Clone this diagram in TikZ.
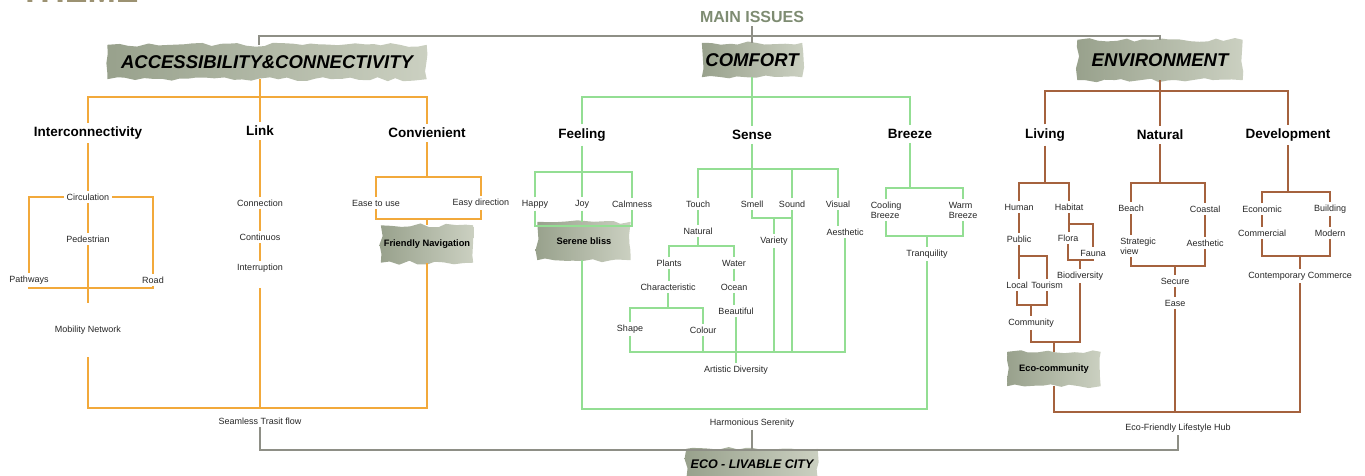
\documentclass[tikz,border=0pt]{standalone}
\usepackage{fontspec}
\setmainfont{Liberation Sans}
\usetikzlibrary{calc,backgrounds,decorations.pathmorphing}

\definecolor{acorange}{HTML}{F2A93B}
\definecolor{cfgreen}{HTML}{93DE93}
\definecolor{envbrown}{HTML}{A5623E}
\definecolor{maingrey}{HTML}{8E8F86}
\definecolor{issuegreen}{HTML}{7E8C72}
\definecolor{themegold}{HTML}{9C9272}
\definecolor{brushdark}{HTML}{98A18C}
\definecolor{brushlight}{HTML}{CBD0C1}

\tikzset{
  head/.style={font=\fontsize{18.5}{20}\selectfont\bfseries\itshape, inner sep=0pt},
  sub/.style={font=\fontsize{13.5}{15}\selectfont\bfseries, inner sep=4pt},
  lbl/.style={font=\fontsize{9}{10}\selectfont, text=black!85, inner sep=2.5pt},
  key/.style={font=\fontsize{9.3}{10}\selectfont\bfseries, inner sep=0pt},
  brush/.style={left color=brushdark, right color=brushlight,
    decorate, decoration={random steps, segment length=9pt, amplitude=2pt}},
  mainline/.style={draw=maingrey, line width=2pt},
  acline/.style={draw=acorange, line width=1.8pt},
  cfline/.style={draw=cfgreen, line width=1.3pt},
  envline/.style={draw=envbrown, line width=1.7pt}
}

\begin{document}
\begin{tikzpicture}[x=1pt, y=-1pt]
    \pgfmathsetseed{7}
    \useasboundingbox (0,0) rectangle (1365,475);

    \node[anchor=base west, font=\fontsize{34}{36}\selectfont\bfseries, text=themegold] (theme) at (16,2) {THEME};
    \node[font=\fontsize{16}{18}\selectfont\bfseries, text=issuegreen] (issues) at (752,17) {MAIN ISSUES};
    \node[head, minimum width=319, minimum height=34] (acc) at (267,62) {ACCESSIBILITY\&CONNECTIVITY};
    \node[head, minimum width=100, minimum height=34] (comf) at (752,60) {COMFORT};
    \node[head, minimum width=165, minimum height=40] (env) at (1160,60) {ENVIRONMENT};
    \node[head, font=\fontsize{12.5}{14}\selectfont\bfseries\itshape, minimum width=131, minimum height=30] (eco) at (752,464) {ECO - LIVABLE CITY};

    \coordinate (topL) at (259,36);
    \coordinate (topR) at (1160,36);
    \draw[mainline] (acc.north -| topL) -- (topL) -- (topR) -- (env.north);
    \draw[mainline] (issues.south) -- (comf.north);

    %----- accessibility & connectivity

    \node[sub] (inter) at (88,133) {Interconnectivity};
    \node[sub] (link) at (260,131) {Link};
    \node[sub] (conv) at (427,133) {Convienient};
    \coordinate (aj) at (260,97);
    \draw[acline] (inter.north) |- (aj) -| (conv.north);
    \draw[acline] (acc.south -| aj) -- (link.north);

    \node[lbl] (circ) at (88,197) {Circulation};
    \node[lbl] (ped) at (88,239) {Pedestrian};
    \node[lbl] (pathw) at (29,280) {Pathways};
    \node[lbl] (road) at (153,280) {Road};
    \node[lbl, minimum height=54] (mob) at (88,330) {Mobility Network};
    \coordinate (pr) at (88,288);
    \draw[acline] (inter.south) -- (circ.north);
    \draw[acline] (circ.west) -| (pathw.north);
    \draw[acline] (circ.east) -| (road.north);
    \draw[acline] (circ.south) -- (ped.north);
    \draw[acline] (ped.south) -- (mob.north);
    \draw[acline] (pathw.south) |- (pr) -| (road.south);

    \node[lbl] (connx) at (260,203) {Connection};
    \node[lbl] (cont) at (260,237) {Continuos};
    \node[lbl] (intr) at (260,268) {Interruption};
    \draw[acline] (link.south) -- (connx.north);
    \draw[acline] (connx.south) -- (cont.north);
    \draw[acline] (cont.south) -- (intr.north);

    \node[lbl] (easeuse) at (376,203) {Ease to use};
    \node[lbl] (easydir) at (481,203) {Easy direction};
    \node[key, minimum width=92, minimum height=37] (fnav) at (427,244) {Friendly Navigation};
    \coordinate (cj) at (427,177);
    \coordinate (cb) at (427,219);
    \draw[acline] (conv.south) -- (cj);
    \draw[acline] (easeuse.north) |- (cj) -| (easydir.north);
    \draw[acline] (easeuse.south) |- (cb) -| (easydir.south);
    \draw[acline] (cb) -- (fnav.north);

    \node[lbl] (sf) at (260,421) {Seamless Trasit flow};
    \coordinate (sfj) at (260,408);
    \draw[acline] (mob.south) |- (sfj) -| (fnav.south);
    \draw[acline, shorten <=13pt] (intr.south) -- (sfj);

    %----- comfort

    \node[sub] (feel) at (582,135) {Feeling};
    \node[sub] (sense) at (752,135) {Sense};
    \node[sub] (breeze) at (910,134) {Breeze};
    \coordinate (gj) at (752,97);
    \draw[cfline] (feel.north) |- (gj) -| (breeze.north);
    \draw[cfline] (comf.south) -- (sense.north);

    \node[lbl] (happy) at (535,204) {Happy};
    \node[lbl] (joy) at (582,204) {Joy};
    \node[lbl] (calm) at (632,204) {Calmness};
    \node[key, minimum width=93, minimum height=38] (serene) at (584,241) {Serene bliss};
    \coordinate (fj) at (582,172);
    \coordinate (fb) at (582,226);
    \draw[cfline] (feel.south) -- (joy.north);
    \draw[cfline] (happy.north) |- (fj) -| (calm.north);
    \draw[cfline] (happy.south) |- (fb) -| (calm.south);
    \draw[cfline] (joy.south) -- (joy.south |- serene.north);

    \node[lbl] (touch) at (698,204) {Touch};
    \node[lbl] (smell) at (752,204) {Smell};
    \node[lbl] (sound) at (792,204) {Sound};
    \node[lbl] (visual) at (838,204) {Visual};
    \node[lbl] (variety) at (774,241) {Variety};
    \node[lbl] (aes) at (845,232) {Aesthetic};
    \node[lbl] (nat) at (698,231) {Natural};
    \node[lbl] (plants) at (669,263) {Plants};
    \node[lbl] (water) at (734,263) {Water};
    \node[lbl] (charac) at (668,287) {Characteristic};
    \node[lbl] (ocean) at (734,287) {Ocean};
    \node[lbl] (beaut) at (736,311) {Beautiful};
    \node[lbl] (shape) at (630,329) {Shape};
    \node[lbl] (colour) at (703,330) {Colour};
    \node[lbl] (artd) at (736,370) {Artistic Diversity};

    \coordinate (sj) at (752,169);
    \draw[cfline] (sense.south) -- (smell.north);
    \draw[cfline] (touch.north) |- (sj) -| (visual.north);
    \draw[cfline] (sound.north) -- (sound.north |- sj);
    \coordinate (vj) at (774,218);
    \coordinate (ab) at (736,352);
    \draw[cfline] (smell.south) |- (vj) -| (sound.south);
    \draw[cfline] (vj) -- (variety.north);
    \draw[cfline] (sound.south) -- (sound.south |- ab);
    \draw[cfline] (visual.south) -- (visual.south |- aes.north);
    \draw[cfline] (touch.south) -- (nat.north);
    \coordinate (nj) at (698,246);
    \draw[cfline] (nat.south) -- (nj);
    \draw[cfline] (plants.north) |- (nj) -| (water.north);
    \draw[cfline] (plants.south) -- (plants.south |- charac.north);
    \draw[cfline] (water.south) -- (water.south |- ocean.north);
    \draw[cfline] (ocean.south) -- (ocean.south |- beaut.north);
    \coordinate (cj2) at (668,308);
    \draw[cfline] (charac.south) -- (cj2);
    \draw[cfline] (shape.north) |- (cj2) -| (colour.north);
    \draw[cfline] (shape.south) |- (ab) -| (aes.south);
    \draw[cfline] (colour.south) -- (colour.south |- ab);
    \draw[cfline] (variety.south) -- (variety.south |- ab);
    \draw[cfline] (beaut.south) -- (artd.north);

    \node[lbl, align=left] (cool) at (886,210) {Cooling\\Breeze};
    \node[lbl, align=left] (warm) at (963,210) {Warm\\Breeze};
    \node[lbl] (tranq) at (927,254) {Tranquility};
    \coordinate (bj) at (910,188);
    \coordinate (bb) at (927,236);
    \draw[cfline] (breeze.south) -- (bj);
    \draw[cfline] (cool.north) |- (bj) -| (warm.north);
    \draw[cfline] (cool.south) |- (bb) -| (warm.south);
    \draw[cfline] (bb) -- (tranq.north);

    \node[lbl] (hs) at (752,423) {Harmonious Serenity};
    \coordinate (hj) at (752,409);
    \draw[cfline] (serene.south -| joy) |- (hj) -| (tranq.south);

    %----- environment

    \node[sub] (living) at (1045,135) {Living};
    \node[sub] (natural) at (1160,135) {Natural};
    \node[sub] (devel) at (1288,135) {Development};
    \coordinate (ej) at (1160,91);
    \draw[envline] (living.north) |- (ej) -| (devel.north);
    \draw[envline] (env.south) -- (natural.north);

    \node[lbl] (human) at (1019,207) {Human};
    \node[lbl] (habitat) at (1069,207) {Habitat};
    \node[lbl] (public) at (1019,239) {Public};
    \node[lbl] (flora) at (1068,238) {Flora};
    \node[lbl] (fauna) at (1093,253) {Fauna};
    \node[lbl] (local) at (1017,285) {Local};
    \node[lbl] (tourism) at (1047,285) {Tourism};
    \node[lbl] (bio) at (1080,276) {Biodiversity};
    \node[lbl] (commu) at (1031,323) {Community};
    \node[key, minimum width=93, minimum height=34] (ecoc) at (1054,369) {Eco-community};

    \coordinate (lj) at (1045,183);
    \draw[envline] (living.south) -- (lj);
    \draw[envline] (human.north) |- (lj) -| (habitat.north);
    \draw[envline] (human.south) -- (public.north);
    \coordinate (pj) at (1019,256);
    \draw[envline] (public.south) -- (public.south |- local.north);
    \draw[envline] (pj) -| (tourism.north);
    \coordinate (lt) at (1031,305);
    \draw[envline] (local.south) |- (lt) -| (tourism.south);
    \draw[envline] (lt) -- (commu.north);
    \coordinate (hb) at (1069,224);
    \draw[envline] (habitat.south) -- (habitat.south |- flora.north);
    \draw[envline] (hb) -| (fauna.north);
    \coordinate (ff) at (1080,260);
    \draw[envline] (flora.south) |- (ff) -| (fauna.south);
    \draw[envline] (ff) -- (bio.north);
    \coordinate (cm) at (1054,342);
    \draw[envline] (commu.south) |- (cm) -| (bio.south);
    \draw[envline] (cm) -- (ecoc.north);

    \node[lbl] (beach) at (1131,208) {Beach};
    \node[lbl] (coastal) at (1205,209) {Coastal};
    \node[lbl, align=left] (strat) at (1138,246) {Strategic\\view};
    \node[lbl] (aes2) at (1205,243) {Aesthetic};
    \node[lbl] (secure) at (1175,281) {Secure};
    \node[lbl] (ease2) at (1175,303) {Ease};
    \coordinate (nj2) at (1160,183);
    \draw[envline] (natural.south) -- (nj2);
    \draw[envline] (beach.north) |- (nj2) -| (coastal.north);
    \draw[envline] (beach.south) -- (beach.south |- strat.north);
    \draw[envline] (coastal.south) -- (aes2.north);
    \coordinate (sc) at (1175,266);
    \draw[envline] (beach.south |- strat.south) |- (sc) -| (aes2.south);
    \draw[envline] (sc) -- (secure.north);
    \draw[envline] (secure.south) -- (ease2.north);

    \node[lbl] (econ) at (1262,209) {Economic};
    \node[lbl] (build) at (1330,209) {Building};
    \node[lbl] (comm) at (1262,233) {Commercial};
    \node[lbl] (modern) at (1330,233) {Modern};
    \node[lbl] (contemp) at (1300,276) {Contemporary Commerce};
    \coordinate (dj) at (1288,192);
    \draw[envline] (devel.south) -- (dj);
    \draw[envline] (econ.north) |- (dj) -| (build.north);
    \draw[envline] (econ.south) -- (comm.north);
    \draw[envline] (build.south) -- (modern.north);
    \coordinate (dm) at (1300,256);
    \draw[envline] (comm.south) |- (dm) -| (modern.south);
    \draw[envline] (dm) -- (contemp.north);

    \node[lbl] (efh) at (1178,428) {Eco-Friendly Lifestyle Hub};
    \coordinate (ebj) at (1178,412);
    \draw[envline] (ecoc.south) |- (ebj) -| (contemp.south);
    \draw[envline] (ease2.south) -- (ease2.south |- ebj);

    %----- bottom

    \coordinate (botL) at (260,450);
    \coordinate (botR) at (1178,450);
    \draw[mainline] (sf.south) -- (botL) -- (botR) -- (efh.south);
    \draw[mainline] (hs.south) -- (eco.north);

    % painted patches behind the key labels
    \begin{scope}[on background layer]
        \foreach \n in {acc, comf, env, fnav, serene, ecoc, eco}
            \path[brush] (\n.north west) rectangle (\n.south east);
    \end{scope}
\end{tikzpicture}
\end{document}
